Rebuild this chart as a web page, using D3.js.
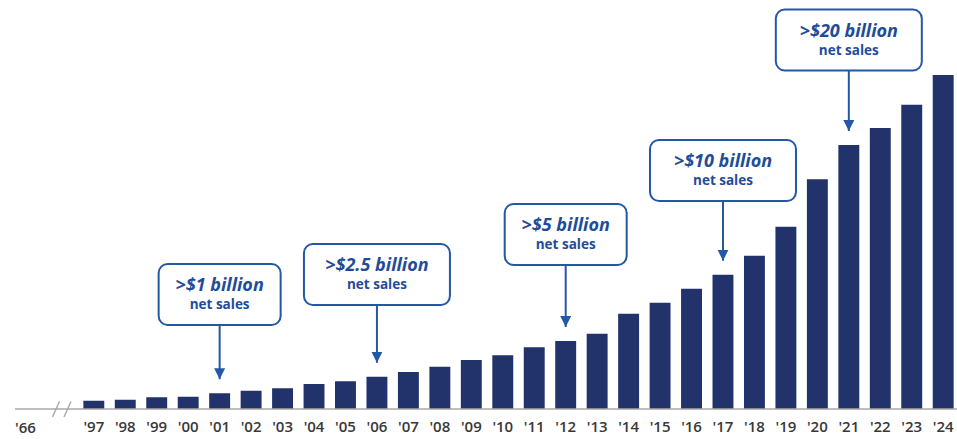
<!DOCTYPE html>
<html>
<head>
<meta charset="utf-8">
<script src="https://cdn.jsdelivr.net/npm/d3@7"></script>
<style>
  html, body { margin: 0; padding: 0; background: #fff; }
  svg { display: block; }
</style>
</head>
<body>
<svg id="chart" width="957" height="439"></svg>
<script>
// Annual net sales, $ billions
const years = ["'97","'98","'99","'00","'01","'02","'03","'04","'05","'06","'07","'08","'09","'10",
               "'11","'12","'13","'14","'15","'16","'17","'18","'19","'20","'21","'22","'23","'24"];
const netSales = [0.66, 0.74, 0.94, 0.98, 1.26, 1.46, 1.66, 2.0, 2.22, 2.58, 2.96, 3.38, 3.92, 4.3,
                  4.94, 5.44, 6.02, 7.62, 8.5, 9.62, 10.74, 12.26, 14.58, 18.38, 21.12, 22.48, 24.34, 26.72];
const foundedLabel = "'66";

// Milestone callouts: year reached, headline, sub-line
const milestoneYears = ["'01", "'06", "'12", "'17", "'21"];
const milestoneTitles = [">$1 billion", ">$2.5 billion", ">$5 billion", ">$10 billion", ">$20 billion"];
const milestoneSub = "net sales";

const W = 957, H = 439;
const baseY = 409;
const svg = d3.select("#chart");

const BAR = "#22336b", BLUE = "#2457a6", TXT = "#1f4c9a", AXIS = "#a8a8a8", LABEL = "#383838";

const x = d3.scaleBand().domain(years).range([78, 959]).paddingInner(0.335).paddingOuter(0.17);
const y = d3.scaleLinear().domain([0, 28]).range([baseY, baseY - 28 * 12.5]);

// bars
svg.append("g").selectAll("rect").data(years).join("rect")
  .attr("x", d => x(d))
  .attr("y", (d, i) => y(netSales[i]))
  .attr("width", x.bandwidth())
  .attr("height", (d, i) => baseY - y(netSales[i]))
  .attr("fill", BAR);

// baseline
svg.append("line").attr("x1", 15).attr("x2", W).attr("y1", baseY).attr("y2", baseY)
  .attr("stroke", AXIS).attr("stroke-width", 1.6);

// axis break marks
[0, 11.5].forEach(dx => {
  svg.append("line")
    .attr("x1", 52.5 + dx).attr("y1", 417)
    .attr("x2", 59.5 + dx).attr("y2", 401.5)
    .attr("stroke", AXIS).attr("stroke-width", 1.4);
});

// year labels
const axisG = svg.append("g")
  .attr("transform", `translate(0,${baseY})`)
  .call(d3.axisBottom(x).tickSize(0).tickPadding(12));
axisG.select(".domain").remove();
axisG.selectAll("text")
  .attr("font-family", "'Open Sans', sans-serif")
  .attr("font-size", 15)
  .attr("font-weight", 600)
  .attr("fill", LABEL);

svg.append("text").attr("x", 25.5).attr("y", 433)
  .attr("text-anchor", "middle")
  .attr("font-family", "'Open Sans', sans-serif")
  .attr("font-size", 15).attr("font-weight", 600).attr("fill", LABEL)
  .text(foundedLabel);

// callouts
const boxW = [122, 146, 122, 146, 146];
const boxTop = [264, 244, 204, 140, 9.5];
const boxH = 61;
const defs = svg.append("defs");
defs.append("marker").attr("id", "arrowhead")
  .attr("viewBox", "0 0 10 10").attr("refX", 10).attr("refY", 5)
  .attr("markerWidth", 5.5).attr("markerHeight", 6)
  .attr("markerUnits", "strokeWidth").attr("orient", "auto")
  .append("path").attr("d", "M0,0 L10,5 L0,10 Z").attr("fill", BLUE);

milestoneYears.forEach((yr, k) => {
  const i = years.indexOf(yr);
  const cx = x(yr) + x.bandwidth() / 2;
  const top = boxTop[k];
  const g = svg.append("g");
  g.append("line")
    .attr("x1", cx).attr("x2", cx)
    .attr("y1", top + boxH).attr("y2", y(netSales[i]) - 14)
    .attr("stroke", BLUE).attr("stroke-width", 2)
    .attr("marker-end", "url(#arrowhead)");
  g.append("rect")
    .attr("x", cx - boxW[k] / 2).attr("y", top)
    .attr("width", boxW[k]).attr("height", boxH)
    .attr("rx", 9).attr("ry", 9)
    .attr("fill", "#fff").attr("stroke", BLUE).attr("stroke-width", 2);
  g.append("text")
    .attr("x", cx).attr("y", top + 27)
    .attr("text-anchor", "middle")
    .attr("font-family", "'Open Sans', sans-serif")
    .attr("font-size", 18).attr("font-weight", 700).attr("font-style", "italic")
    .attr("fill", TXT)
    .text(milestoneTitles[k]);
  g.append("text")
    .attr("x", cx).attr("y", top + 45)
    .attr("text-anchor", "middle")
    .attr("font-family", "'Open Sans', sans-serif")
    .attr("font-size", 13.5).attr("font-weight", 700)
    .attr("fill", TXT)
    .text(milestoneSub);
});
</script>
</body>
</html>
